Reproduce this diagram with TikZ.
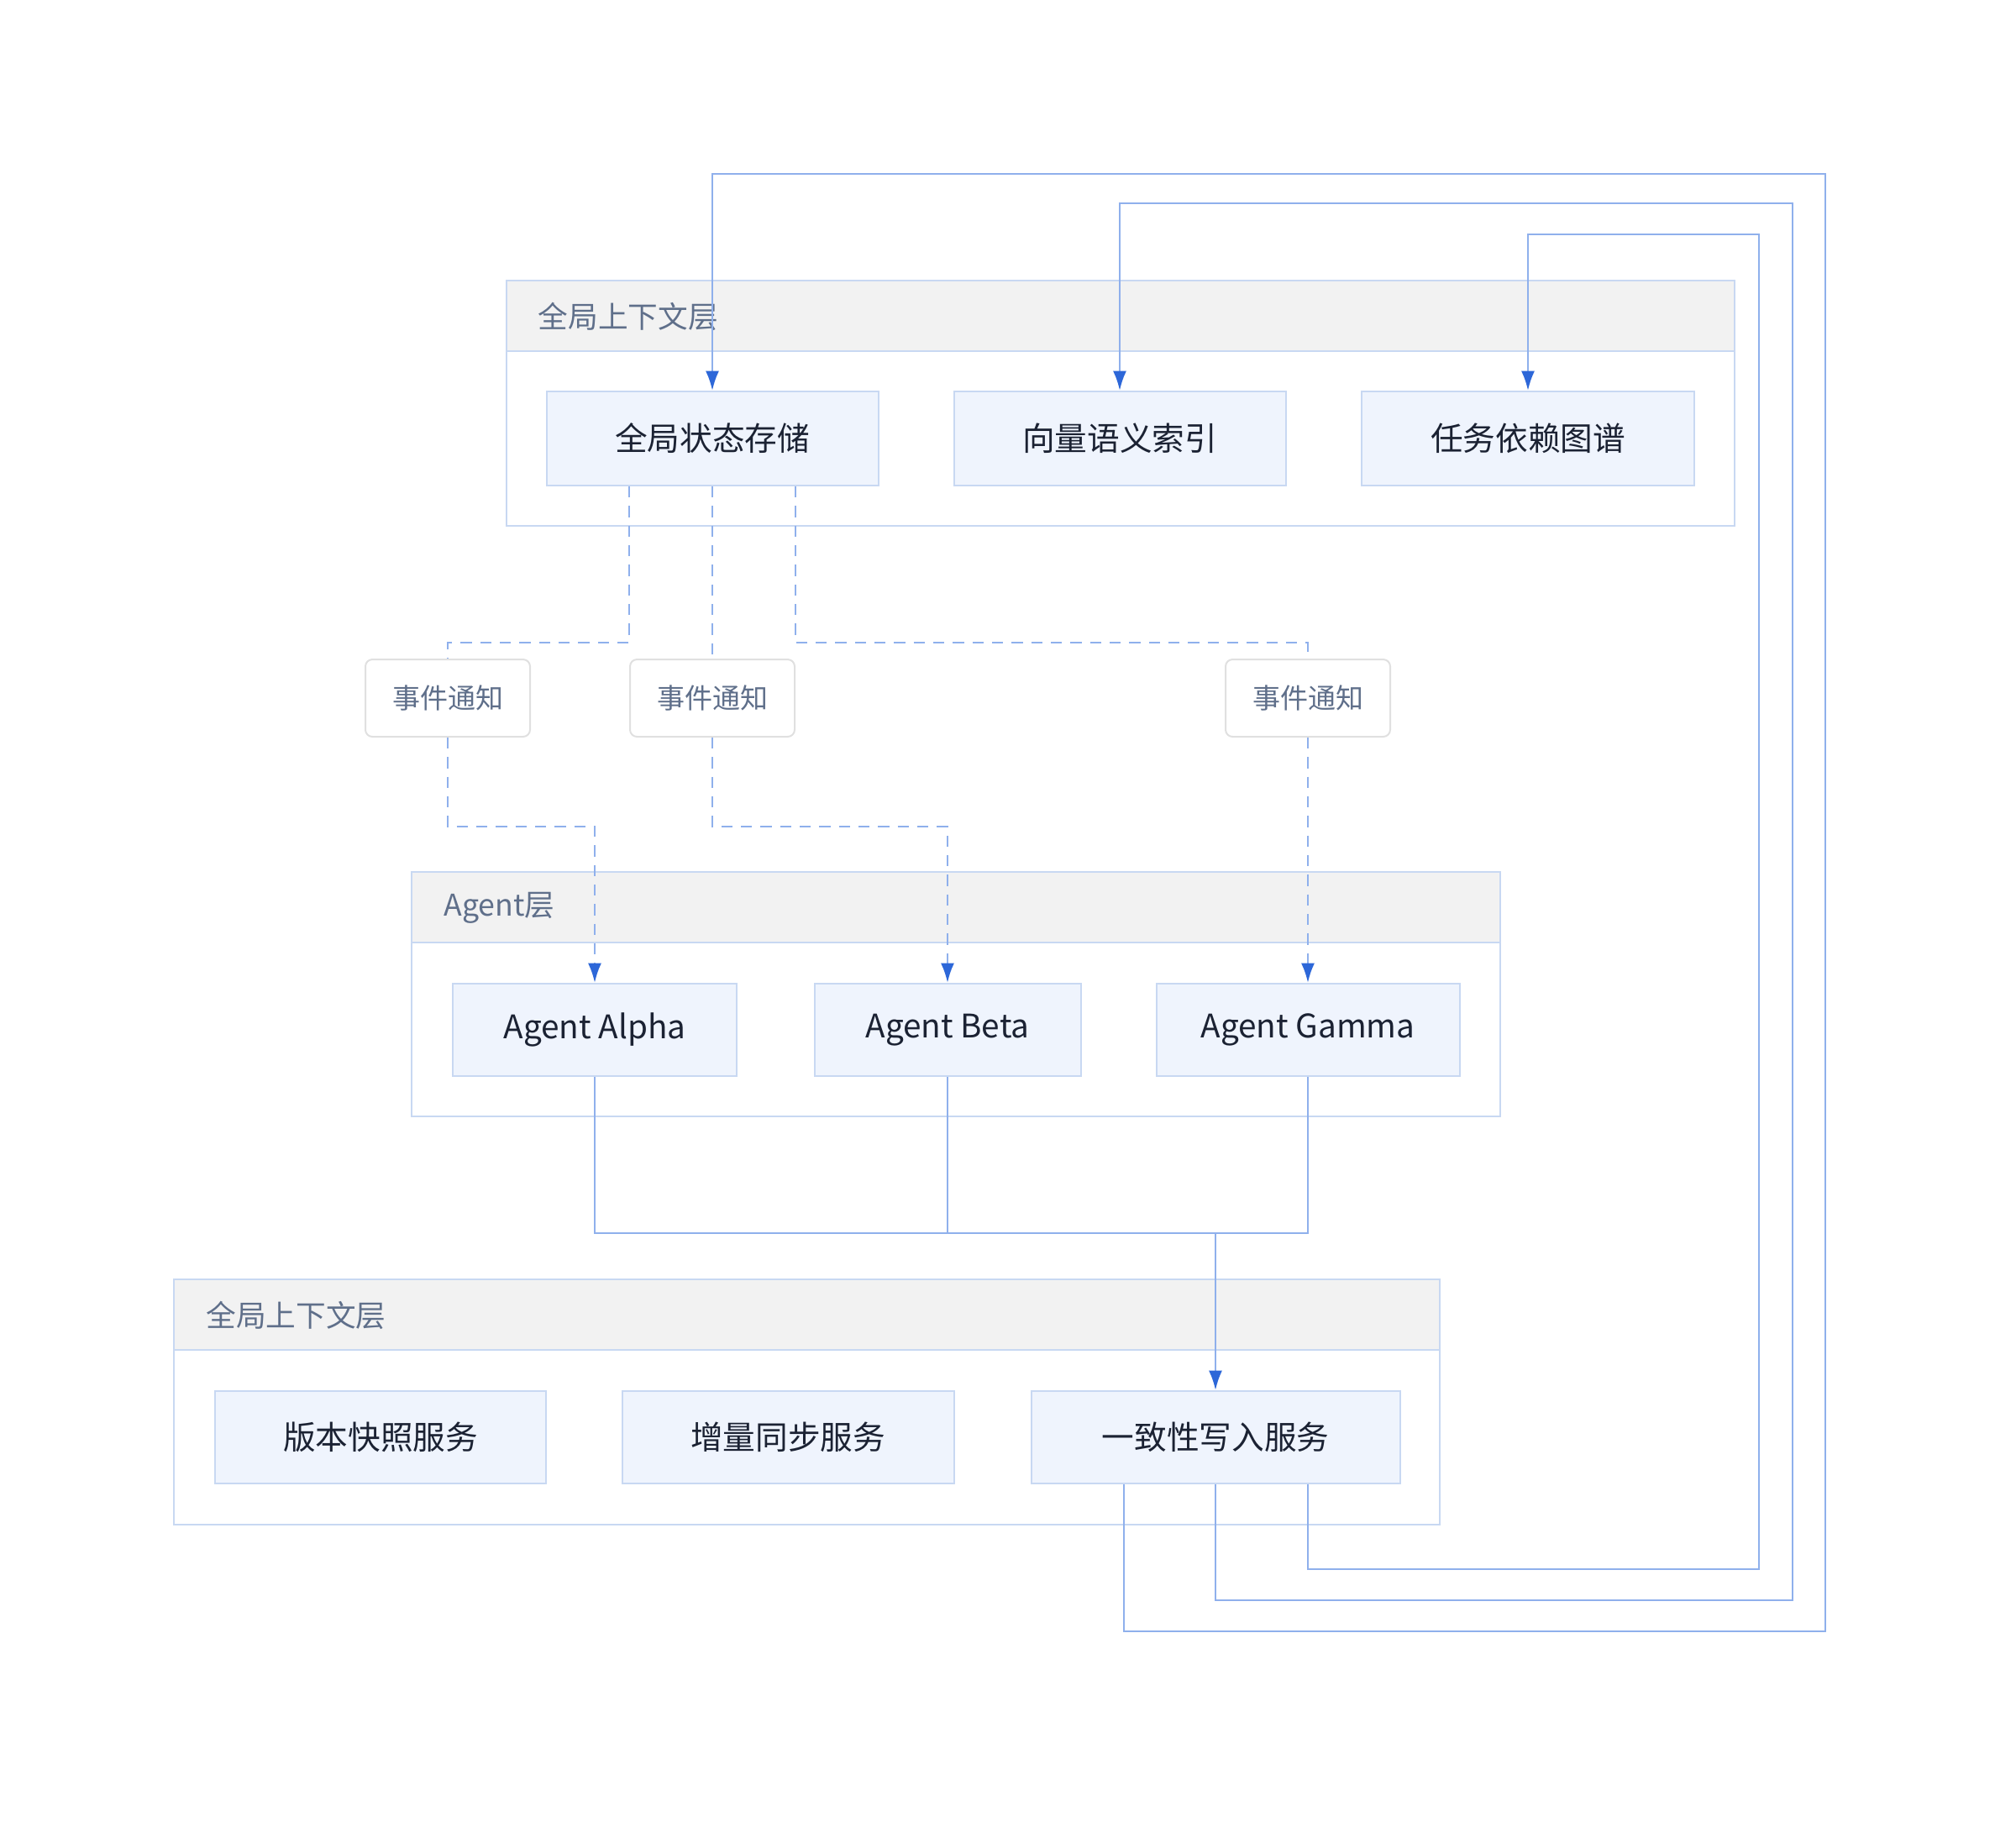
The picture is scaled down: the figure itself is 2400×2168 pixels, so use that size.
\documentclass[tikz,border=0pt]{standalone}
\usepackage{fontspec}
\setmainfont{Noto Sans CJK SC}
\usetikzlibrary{arrows.meta,calc}
\definecolor{linec}{HTML}{8FB0EC}
\definecolor{arrowc}{HTML}{2D67D8}
\definecolor{nodefill}{HTML}{EFF4FD}
\definecolor{nodeborder}{HTML}{C8D8F2}
\definecolor{headfill}{HTML}{F2F2F2}
\definecolor{labeltext}{HTML}{5F6F8A}
\definecolor{nodetext}{HTML}{1B2233}
\definecolor{evborder}{HTML}{E0E0E0}
\newcommand\pxu{0.3pt}
\begin{document}
\begin{tikzpicture}[x=0.3pt,y=-0.3pt,
  box/.style={draw=nodeborder, fill=nodefill, line width=0.6pt, inner sep=0pt,
    text=nodetext, font=\fontsize{11.6}{14}\selectfont},
  evbox/.style={draw=evborder, fill=white, line width=0.6pt, inner sep=0pt,
    rounded corners=2.5pt, text=labeltext, font=\fontsize{9.9}{12}\selectfont,
    minimum width=196*\pxu, minimum height=92*\pxu},
  clframe/.style={draw=nodeborder, fill=white, line width=0.6pt},
  clhead/.style={draw=nodeborder, fill=headfill, line width=0.6pt},
  cllabel/.style={anchor=west, inner sep=0pt, text=labeltext, font=\fontsize{10.7}{13}\selectfont},
  conn/.style={draw=linec, line width=0.8pt},
  dconn/.style={draw=linec, line width=0.8pt, dash pattern=on 4pt off 3pt},
  tip/.style={-{Latex[length=7pt,width=4.8pt,color=arrowc]}}
]
\useasboundingbox (0,0) rectangle (2400,2168);

% clusters
\draw[clframe] (603,334) rectangle (2065,626);
\draw[clhead] (603,334) rectangle (2065,418);
\node[cllabel] (t1) at (640,377) {全局上下文层};

\draw[clframe] (490,1038) rectangle (1786,1329);
\draw[clhead] (490,1038) rectangle (1786,1122);
\node[cllabel] (t2) at (528,1081) {Agent层};

\draw[clframe] (207,1523) rectangle (1714,1815);
\draw[clhead] (207,1523) rectangle (1714,1607);
\node[cllabel] (t3) at (245,1566) {全局上下文层};

% nodes
\node[box, minimum width=395*\pxu, minimum height=112*\pxu] (n1) at (848,522) {全局状态存储};
\node[box, minimum width=395*\pxu, minimum height=112*\pxu] (n2) at (1333,522) {向量语义索引};
\node[box, minimum width=396*\pxu, minimum height=112*\pxu] (n3) at (1819,522) {任务依赖图谱};

\node[box, minimum width=338*\pxu, minimum height=110*\pxu] (alpha) at (708,1226) {Agent Alpha};
\node[box, minimum width=317*\pxu, minimum height=110*\pxu] (beta) at (1128,1226) {Agent Beta};
\node[box, minimum width=361*\pxu, minimum height=110*\pxu] (gamma) at (1557,1226) {Agent Gamma};

\node[box, minimum width=394*\pxu, minimum height=110*\pxu] (c1) at (453,1711) {版本快照服务};
\node[box, minimum width=395*\pxu, minimum height=110*\pxu] (c2) at (938,1711) {增量同步服务};
\node[box, minimum width=439*\pxu, minimum height=110*\pxu] (c3) at (1447,1711) {一致性写入服务};

\node[evbox] (e1) at (533,831) {事件通知};
\node[evbox] (e2) at (848,831) {事件通知};
\node[evbox] (e3) at (1557,831) {事件通知};

% dashed event paths
\draw[dconn] ([xshift=-99*\pxu]n1.south) -- ++(0,186) -| (e1.north);
\draw[dconn,tip] (e1.south) -- ++(0,106) -| (alpha.north);
\draw[dconn] (n1.south) -- (e2.north);
\draw[dconn,tip] (e2.south) -- ++(0,106) -| (beta.north);
\draw[dconn] ([xshift=99*\pxu]n1.south) -- ++(0,186) -| (e3.north);
\draw[dconn,tip] (e3.south) -- (gamma.north);

% agents to consistency service
\coordinate (bus) at (1447,1468);
\draw[conn] (alpha.south) |- (bus);
\draw[conn] (gamma.south) |- (bus);
\draw[conn] (beta.south) -- (beta.south |- bus);
\draw[conn,tip] (bus) -- (c3.north);

% feedback loops
\coordinate (r1) at (2173,207);
\coordinate (r2) at (2134,242);
\coordinate (r3) at (2094,279);
\draw[conn,tip] ([xshift=-109*\pxu]c3.south) -- ++(0,175) -| (r1) -| (n1.north);
\draw[conn,tip] (c3.south) -- ++(0,138) -| (r2) -| (n2.north);
\draw[conn,tip] ([xshift=110*\pxu]c3.south) -- ++(0,101) -| (r3) -| (n3.north);
\end{tikzpicture}
\end{document}
